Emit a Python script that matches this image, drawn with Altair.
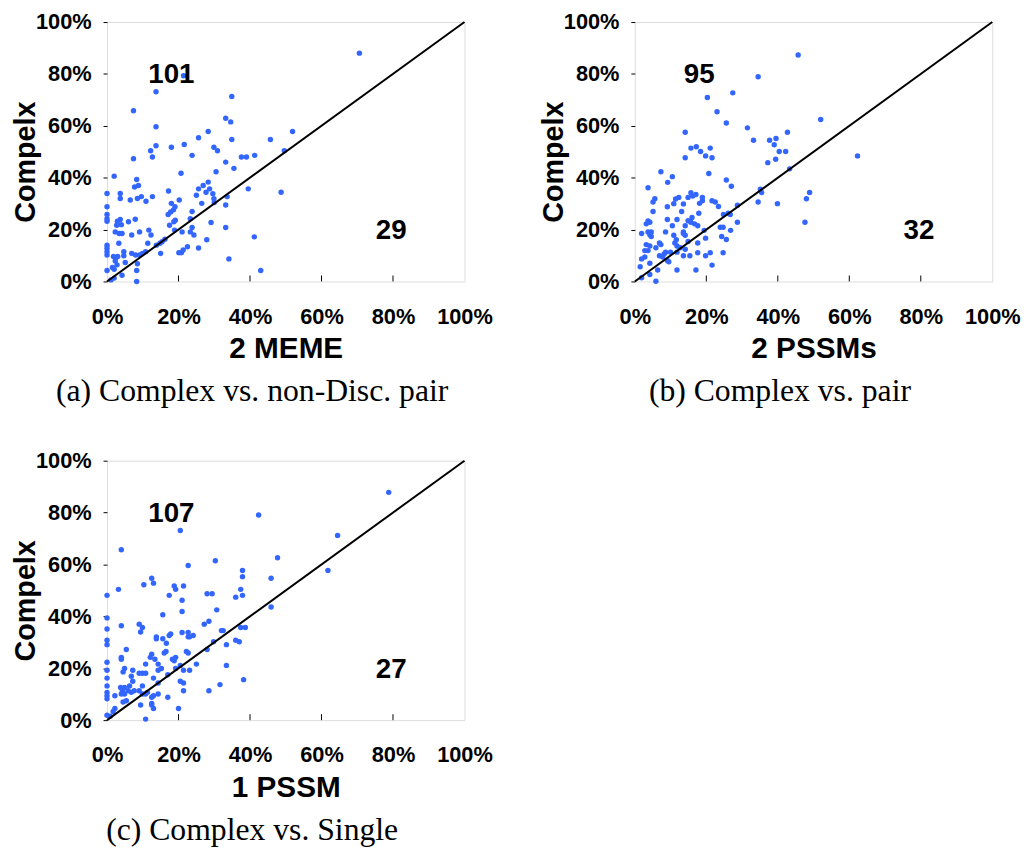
import altair as alt
import pandas as pd

# ---------------- data (percent values) ----------------
# (a) Complex vs. non-Disc. pair : x = 2 MEME, y = Complex
ax = [70.6, 21.4, 13.7, 34.9, 7.4, 33.2, 34.6, 13.7, 28.3, 51.9,
      25.6, 45.7, 34.9, 13.7, 21.6, 18.0, 29.9, 30.9, 12.2, 49.6,
      12.7, 23.8, 7.4, 37.6, 39.0, 41.3, 33.2, 35.5, 30.5, 20.7,
      2.0, 8.3, 7.7, 8.8, 17.2, 0, 3.7, 3.7, 6.5, 8.5,
      9.6, 10.9, 12.7, 20.2, 25.0, 25.6, 26.9, 28.3, 28.7, 27.7,
      29.6, 26.5, 29.9, 30.0, 33.6, 48.7, 39.5, 0, 18.0, 19.0,
      18.6, 17.1, 17.8, 33.2, 23.8, 0, 0, 0, 2.9, 3.7,
      4.0, 2.7, 6.0, 7.9, 17.5, 18.7, 19.1, 23.3, 29.1, 33.2,
      23.8, 23.3, 24.3, 18.9, 21.0, 2.3, 3.4, 4.2, 9.1, 11.7,
      12.3, 6.9, 27.9, 41.2, 16.2, 15.4, 14.8, 11.4, 13.8, 3.3,
      0, 0, 0, 0, 22.5, 25.6, 21.3, 20.1, 20.8, 15.0,
      4.7, 6.9, 8.0, 9.1, 9.9, 10.8, 1.8, 2.5, 3.0, 4.7,
      34.1, 8.5, 5.1, 2.3, 2.8, 1.5, 2.0, 0, 8.3, 43.0,
      4.2, 2.0, 8.3, 1.1]
ay = [88.0, 79.3, 73.1, 71.3, 65.8, 62.9, 61.5, 59.6, 57.8, 57.8,
      55.4, 54.7, 54.7, 52.3, 52.8, 51.7, 51.7, 50.4, 50.4, 50.4,
      48.0, 48.6, 47.3, 48.0, 48.0, 48.6, 46.0, 43.6, 42.3, 41.7,
      40.6, 39.3, 36.4, 37.0, 34.9, 33.9, 33.9, 32.0, 31.4, 32.0,
      32.7, 30.9, 32.7, 31.4, 33.2, 35.7, 37.0, 38.3, 35.7, 34.4,
      33.8, 30.1, 31.9, 30.4, 32.7, 34.4, 35.7, 28.8, 30.1, 28.8,
      27.6, 25.8, 26.8, 29.5, 27.0, 25.8, 24.2, 23.2, 23.2, 23.9,
      21.9, 21.7, 23.0, 24.0, 21.7, 23.0, 23.6, 24.2, 22.7, 20.8,
      20.8, 19.1, 17.9, 19.8, 19.1, 19.1, 18.5, 18.5, 19.1, 19.8,
      17.9, 17.9, 16.1, 17.2, 16.3, 15.3, 14.7, 14.7, 14.0, 14.7,
      14.0, 12.8, 11.5, 10.2, 13.4, 12.9, 12.1, 11.1, 11.1, 10.8,
      11.5, 10.8, 10.2, 10.2, 10.8, 11.5, 9.6, 9.2, 9.6, 9.9,
      8.7, 6.8, 7.3, 7.9, 6.4, 5.4, 4.7, 4.2, 4.2, 4.2,
      2.4, 1.3, 0, 0.6]

# (b) Complex vs. pair : x = 2 PSSMs, y = Complex
bx = [45.7, 34.5, 27.4, 20.3, 23.0, 52.0, 25.6, 31.5, 14.1, 42.7,
      33.2, 37.7, 39.5, 39.0, 40.4, 42.2, 15.7, 17.2, 18.4, 19.8,
      21.1, 21.6, 14.1, 62.3, 37.2, 39.4, 43.3, 20.7, 7.3, 10.5,
      25.6, 27.0, 9.2, 3.7, 15.7, 17.1, 16.2, 14.9, 12.3, 11.4,
      10.9, 13.6, 18.9, 18.9, 21.6, 22.5, 35.1, 35.5, 48.9, 48.0,
      5.6, 5.1, 18.1, 23.4, 9.1, 34.5, 39.9, 28.7, 5.1, 13.1,
      17.9, 24.8, 26.1, 26.7, 3.7, 4.2, 3.2, 9.1, 11.8, 14.9,
      16.0, 16.7, 17.6, 15.7, 14.1, 10.5, 28.7, 47.6, 23.9, 24.7,
      3.7, 4.6, 4.2, 4.6, 1.9, 8.6, 13.6, 14.1, 13.6, 10.9,
      19.4, 26.8, 24.3, 25.6, 11.6, 11.2, 14.9, 17.6, 19.8, 6.9,
      5.9, 7.3, 3.2, 4.2, 2.8, 3.7, 11.8, 12.7, 14.1, 11.8,
      8.6, 10.0, 17.6, 21.1, 24.7, 6.9, 7.8, 9.1, 9.5, 8.2,
      13.6, 15.4, 19.8, 1.9, 2.8, 4.2, 1.5, 21.6, 6.4, 11.8,
      17.1, 4.2, 1.9, 5.9]
by = [87.3, 78.9, 72.7, 70.9, 65.4, 62.4, 61.1, 59.2, 57.5, 57.5,
      54.4, 54.4, 55.1, 52.7, 50.1, 50.1, 51.4, 51.9, 50.1, 48.4,
      51.4, 47.7, 47.7, 48.4, 45.8, 47.1, 43.4, 41.6, 42.3, 40.4,
      39.1, 36.7, 38.2, 36.1, 34.2, 33.5, 32.9, 32.4, 32.4, 31.8,
      30.0, 29.9, 32.4, 31.1, 31.1, 30.6, 35.6, 34.3, 34.3, 31.9,
      31.9, 30.6, 30.1, 28.9, 28.8, 30.6, 30.0, 29.4, 27.0, 27.0,
      26.3, 25.8, 26.3, 25.8, 23.3, 22.8, 22.2, 23.9, 23.9, 23.4,
      24.7, 22.2, 21.5, 22.8, 21.5, 21.5, 22.8, 22.8, 20.9, 20.9,
      19.1, 19.1, 18.0, 17.3, 18.5, 19.1, 19.1, 17.8, 18.5, 17.8,
      19.7, 19.7, 17.3, 16.2, 16.1, 14.8, 15.4, 14.8, 16.7, 14.8,
      13.0, 14.2, 14.2, 13.7, 11.9, 11.9, 13.7, 13.0, 12.4, 11.3,
      11.3, 11.3, 11.1, 11.1, 11.1, 9.9, 9.4, 8.1, 7.6, 10.6,
      9.9, 9.9, 9.9, 8.7, 9.4, 7.0, 5.7, 6.3, 4.4, 4.4,
      4.4, 2.7, 1.4, 0.1]

# (c) Complex vs. Single : x = 1 PSSM, y = Complex
cx = [78.8, 42.4, 20.5, 64.5, 4.0, 47.7, 30.3, 22.7, 37.9, 37.9,
      61.8, 45.9, 12.5, 13.0, 10.3, 18.8, 19.2, 21.4, 3.2, 37.4,
      37.9, 0, 17.4, 28.0, 29.4, 36.0, 21.0, 21.0, 30.7, 15.6,
      45.9, 0, 28.5, 27.2, 4.0, 9.0, 9.9, 9.4, 0, 21.0,
      17.8, 17.4, 32.0, 32.5, 37.4, 38.7, 13.8, 13.8, 15.6, 16.6,
      22.7, 23.1, 24.1, 22.7, 29.8, 33.4, 36.0, 37.0, 28.0, 0,
      0, 5.4, 16.5, 16.0, 22.2, 22.7, 4.0, 4.0, 12.5, 12.1,
      13.4, 18.3, 19.2, 18.8, 0, 10.8, 14.3, 15.2, 14.3, 20.5,
      21.4, 23.1, 25.0, 33.4, 0, 0, 4.9, 4.5, 7.2, 9.0,
      9.9, 10.8, 6.8, 7.2, 13.0, 17.0, 19.2, 38.2, 20.5, 21.4,
      31.6, 0, 0, 0, 0, 3.8, 4.9, 6.3, 5.9, 4.3,
      7.6, 9.0, 9.9, 4.0, 4.9, 6.8, 14.3, 9.9, 10.8, 11.3,
      14.3, 21.4, 28.5, 2.2, 4.5, 5.4, 12.5, 13.0, 17.0, 9.4,
      12.5, 13.0, 12.5, 20.0, 2.2, 1.7, 0.9, 10.8, 0]
cy = [87.8, 79.1, 73.1, 71.2, 65.7, 62.6, 61.4, 59.6, 57.7, 55.3,
      57.7, 54.7, 54.7, 52.8, 52.2, 51.7, 50.4, 51.7, 50.4, 50.4,
      48.1, 48.1, 48.1, 48.7, 48.7, 47.4, 46.2, 41.9, 42.5, 40.6,
      43.6, 39.4, 38.1, 37.0, 36.4, 37.0, 35.7, 34.0, 35.1, 33.8,
      33.2, 32.6, 34.5, 34.5, 35.7, 35.7, 32.1, 31.4, 31.4, 29.6,
      33.8, 32.1, 32.6, 32.1, 30.2, 29.1, 30.8, 30.2, 27.2, 30.8,
      29.1, 27.2, 26.5, 25.9, 26.5, 25.9, 24.2, 23.5, 25.4, 24.2,
      23.5, 23.5, 24.2, 22.9, 22.3, 21.6, 21.6, 19.9, 19.2, 21.1,
      19.2, 19.2, 21.6, 21.1, 19.2, 16.2, 19.9, 18.6, 19.2, 18.1,
      18.1, 18.1, 16.9, 15.0, 16.2, 17.5, 19.9, 15.6, 15.0, 14.3,
      13.7, 13.2, 10.7, 9.4, 8.2, 12.6, 12.6, 13.2, 11.3, 11.3,
      11.3, 11.3, 13.2, 10.1, 10.1, 10.7, 14.3, 10.1, 10.1, 10.7,
      10.1, 11.3, 11.3, 9.4, 7.0, 7.5, 8.8, 9.4, 8.8, 5.8,
      6.4, 4.5, 5.8, 4.5, 4.5, 3.3, 1.5, 0.4, 1.9]

tick_values = [0, 20, 40, 60, 80, 100]
inner_ticks = [20, 40, 60, 80]
x_titles = ["2 MEME", "2 PSSMs", "1 PSSM"]
y_title = "Compelx"
captions = ["(a) Complex vs. non-Disc. pair", "(b) Complex vs. pair", "(c) Complex vs. Single"]
count_above = [101, 95, 107]
count_below = [29, 32, 27]
count_x = [18, 79.5]
count_y = [79.5, 19.3]

# ---------------- styling ----------------
W, H = 361, 262
FONT = "Liberation Sans"
SERIF = "Liberation Serif"
BLUE = "#3366ff"


def panel(xs, ys, xtitle, caption, up, down):
    pts = pd.DataFrame({"x": xs, "y": ys})
    diag = pd.DataFrame({"x": [0, 100], "y": [0, 100]})
    lab = pd.DataFrame({"x": count_x, "y": count_y, "label": [str(up), str(down)]})
    tk = pd.DataFrame({"x": inner_ticks})

    X = alt.X("x:Q", scale=alt.Scale(domain=[0, 100], nice=False),
              axis=alt.Axis(values=tick_values, labelExpr="datum.value + '%'",
                            labelFlush=False, labelOverlap=False, ticks=False,
                            domain=False, grid=False, labelFont=FONT, labelFontSize=22,
                            labelFontWeight="bold", labelColor="black", labelPadding=25,
                            title=xtitle, titleFont=FONT, titleFontSize=30,
                            titleFontWeight="bold", titleColor="black",
                            titleY=53, titleBaseline="top"))
    Y = alt.Y("y:Q", scale=alt.Scale(domain=[0, 100], nice=False),
              axis=alt.Axis(values=tick_values, labelExpr="datum.value + '%'",
                            labelFlush=False, labelOverlap=False, ticks=True, tickSize=4,
                            tickColor="black", domain=False, grid=False, labelFont=FONT,
                            labelFontSize=22, labelFontWeight="bold", labelColor="black",
                            labelPadding=12, title=y_title, titleFont=FONT, titleFontSize=29,
                            titleFontWeight="bold", titleColor="black", titleX=-67,
                            titleY=141, titleAngle=270, titleBaseline="bottom",
                            titleAlign="center"))

    points = alt.Chart(pts).mark_circle(size=30, color=BLUE, opacity=1).encode(x=X, y=Y)
    line = alt.Chart(diag).mark_line(color="black", strokeWidth=2).encode(x=X, y=Y)
    tickmarks = alt.Chart(tk).mark_rule(color="black", strokeWidth=1).encode(
        x=X, y=alt.value(H), y2=alt.value(H - 6))
    text = alt.Chart(lab).mark_text(font=FONT, fontSize=28, fontWeight="bold",
                                    color="black").encode(x=X, y=Y, text="label:N")
    return alt.layer(points, line, tickmarks, text).properties(
        width=W, height=H,
        title=alt.TitleParams(caption, orient="bottom", anchor="middle", frame="bounds",
                              font=SERIF, fontSize=32, fontWeight="normal",
                              color="black", offset=13))


pa = panel(ax, ay, x_titles[0], captions[0], count_above[0], count_below[0])
pb = panel(bx, by, x_titles[1], captions[1], count_above[1], count_below[1])
pc = panel(cx, cy, x_titles[2], captions[2], count_above[2], count_below[2])

chart = alt.concat(
    pa, pb, pc, columns=2,
    spacing=alt.RowColnumber(row=181, column=172), bounds="flush"
).properties(
    padding={"left": 3, "top": -2, "right": 0, "bottom": 0}
).configure_view(stroke="black", strokeWidth=1.3).configure(background="white")

chart.save("out.html", embed_options={"renderer": "svg", "actions": False})
